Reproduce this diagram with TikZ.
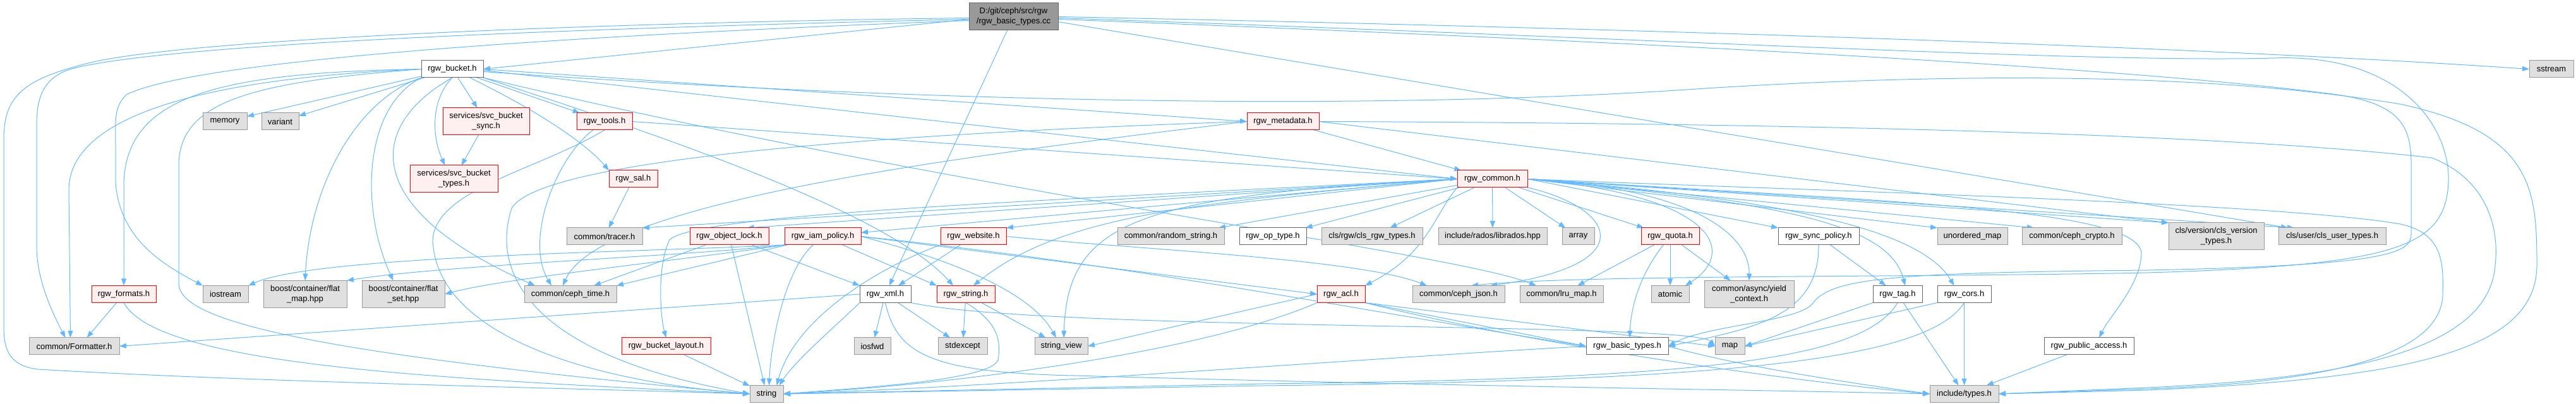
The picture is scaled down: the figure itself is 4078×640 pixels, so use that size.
\documentclass[tikz,border=0pt]{standalone}
\usepackage{fontspec}
\setmainfont{Liberation Sans}
\usetikzlibrary{arrows.meta, backgrounds}

\definecolor{edgeblue}{RGB}{99,184,255}
\definecolor{sysfill}{RGB}{224,224,224}
\definecolor{sysline}{RGB}{153,153,153}
\definecolor{redfill}{RGB}{255,240,240}
\definecolor{plainline}{RGB}{102,102,102}
\definecolor{mainfill}{RGB}{153,153,153}

\begin{document}
\begin{tikzpicture}[x=0.5pt, y=-0.5pt, >={Triangle[length=5.5pt, width=4pt]},
    every node/.style={font=\fontsize{6.5pt}{8pt}\selectfont, inner sep=0pt, outer sep=0pt, minimum height=13.5pt, align=center, line width=0.5pt},
    sysh/.style={draw=sysline, fill=sysfill},
    redh/.style={draw=red, fill=redfill},
    plainh/.style={draw=plainline, fill=white},
    mainf/.style={draw=plainline, fill=mainfill},
    twoline/.style={minimum height=21.5pt},
    dep/.style={->, edgeblue, line width=0.5pt}]
    \useasboundingbox (0,0) rectangle (4078,640);

    \node[mainf, twoline, minimum width=70.5pt] (basiccc) at (1604.5,26.5) {D:/git/ceph/src/rgw\\/rgw\_basic\_types.cc};
    \node[plainh, minimum width=49pt] (bucket) at (716,109.5) {rgw\_bucket.h};
    \node[sysh, minimum width=35pt] (sstream) at (4039,109.5) {sstream};

    \node[sysh, minimum width=35pt] (memory) at (356,192.5) {memory};
    \node[sysh, minimum width=29.5pt] (variant) at (443.5,192.5) {variant};
    \node[redh, twoline, minimum width=68.5pt] (svcsync) at (769.5,192.5) {services/svc\_bucket\\\_sync.h};
    \node[redh, minimum width=44pt] (tools) at (957,192.5) {rgw\_tools.h};
    \node[redh, minimum width=57pt] (metadata) at (2031,192.5) {rgw\_metadata.h};

    \node[redh, twoline, minimum width=69.5pt] (svctypes) at (718.5,283.5) {services/svc\_bucket\\\_types.h};
    \node[redh, minimum width=38.5pt] (sal) at (1002.5,283.5) {rgw\_sal.h};
    \node[redh, minimum width=55.5pt] (common) at (2362.5,283.5) {rgw\_common.h};

    \node[sysh, minimum width=60pt] (tracer) at (957,374.5) {common/tracer.h};
    \node[redh, minimum width=62.5pt] (objlock) at (1154.5,374.5) {rgw\_object\_lock.h};
    \node[redh, minimum width=60.5pt] (iam) at (1302.5,374.5) {rgw\_iam\_policy.h};
    \node[redh, minimum width=52pt] (website) at (1541,374.5) {rgw\_website.h};
    \node[sysh, minimum width=84.5pt] (randstr) at (1853.5,374.5) {common/random\_string.h};
    \node[plainh, minimum width=53pt] (optype) at (2015,374.5) {rgw\_op\_type.h};
    \node[sysh, minimum width=80pt] (clsrgw) at (2172,374.5) {cls/rgw/cls\_rgw\_types.h};
    \node[sysh, minimum width=86pt] (librados) at (2363,374.5) {include/rados/librados.hpp};
    \node[sysh, minimum width=25.5pt] (array) at (2498.5,374.5) {array};
    \node[redh, minimum width=46pt] (quota) at (2644,374.5) {rgw\_quota.h};
    \node[plainh, minimum width=64pt] (syncpol) at (2879,374.5) {rgw\_sync\_policy.h};
    \node[sysh, minimum width=55.5pt] (umap) at (3122.5,374.5) {unordered\_map};
    \node[sysh, minimum width=79pt] (crypto) at (3280,374.5) {common/ceph\_crypto.h};
    \node[sysh, twoline, minimum width=75.5pt] (clsver) at (3508.5,374.5) {cls/version/cls\_version\\\_types.h};
    \node[sysh, minimum width=85pt] (clsuser) at (3692,374.5) {cls/user/cls\_user\_types.h};

    \node[redh, minimum width=51pt] (formats) at (196,466) {rgw\_formats.h};
    \node[sysh, minimum width=36pt] (iostream) at (357,466) {iostream};
    \node[sysh, twoline, minimum width=66pt] (flatmap) at (483,466) {boost/container/flat\\\_map.hpp};
    \node[sysh, twoline, minimum width=65.5pt] (flatset) at (638.5,466) {boost/container/flat\\\_set.hpp};
    \node[sysh, minimum width=73pt] (cephtime) at (903,466) {common/ceph\_time.h};
    \node[plainh, minimum width=40.5pt] (xml) at (1401.5,466) {rgw\_xml.h};
    \node[redh, minimum width=46pt] (rgwstring) at (1529,466) {rgw\_string.h};
    \node[redh, minimum width=38pt] (acl) at (2123,466) {rgw\_acl.h};
    \node[sysh, minimum width=73pt] (cephjson) at (2309,466) {common/ceph\_json.h};
    \node[sysh, minimum width=66pt] (lrumap) at (2472,466) {common/lru\_map.h};
    \node[sysh, minimum width=30pt] (atomic) at (2644,466) {atomic};
    \node[sysh, twoline, minimum width=71pt] (yield) at (2769,466) {common/async/yield\\\_context.h};
    \node[plainh, minimum width=39pt] (tag) at (3004,466) {rgw\_tag.h};
    \node[plainh, minimum width=42.5pt] (cors) at (3109.5,466) {rgw\_cors.h};

    \node[sysh, minimum width=71.5pt] (formatter) at (117.5,548.5) {common/Formatter.h};
    \node[redh, minimum width=70.5pt] (layout) at (1054.5,548.5) {rgw\_bucket\_layout.h};
    \node[sysh, minimum width=29pt] (iosfwd) at (1381,548.5) {iosfwd};
    \node[sysh, minimum width=39pt] (stdexcept) at (1524,548.5) {stdexcept};
    \node[sysh, minimum width=42pt] (strview) at (1680,548.5) {string\_view};
    \node[plainh, minimum width=65pt] (basictypes) at (2576,548.5) {rgw\_basic\_types.h};
    \node[sysh, minimum width=23.5pt] (map) at (2738.5,548.5) {map};
    \node[plainh, minimum width=71pt] (publicacc) at (3307,548.5) {rgw\_public\_access.h};

    \node[sysh, minimum width=26.5pt] (string) at (1213.5,624) {string};
    \node[sysh, minimum width=54.5pt] (typesh) at (3109.5,624) {include/types.h};

    \begin{scope}[on background layer]
    \draw[dep] ([yshift=-2pt]basiccc.west) -- (bucket.east);
    \draw[dep] (basiccc.east) .. controls (2600,45) and (3500,75) .. (sstream.west);
    \draw[dep] (basiccc) -- (xml);
    \draw[dep] ([yshift=-4pt]basiccc.east) -- ([xshift=-35pt]clsuser.north);
    \draw[dep] ([yshift=-1pt]basiccc.west) .. controls (1000,35) and (300,60) .. (140,100) .. controls (40,125) and (6,150) .. (6,220) -- (6,520) .. controls (6,560) and (20,580) .. (60,585) .. controls (400,605) and (900,615) .. (string.west);
    \draw[dep] ([yshift=-2pt]basiccc.west) .. controls (900,45) and (250,70) .. (110,110) .. controls (65,125) and (58,160) .. (58,200) -- (58,390) .. controls (58,440) and (80,490) .. ([xshift=-7pt]formatter.north);
    \draw[dep] ([yshift=-3pt]basiccc.west) .. controls (800,60) and (300,100) .. (200,150) .. controls (180,170) and (183,190) .. (183,230) -- (183,290) .. controls (190,380) and (260,420) .. (iostream.north west);
    \draw[dep] ([yshift=-1pt]basiccc.east) .. controls (2600,60) and (3300,100) .. (3600,92) .. controls (3800,85) and (3880,200) .. (3876,290) .. controls (3870,390) and (3800,420) .. (3400,432) .. controls (3000,440) and (2500,435) .. ([xshift=10pt]cephjson.north);
    \draw[dep] ([yshift=-2pt]basiccc.east) .. controls (2700,70) and (3400,110) .. (3700,150) .. controls (3800,165) and (3817,200) .. (3817,260) -- (3817,370) .. controls (3817,400) and (3790,420) .. (3400,428) .. controls (3000,432) and (2900,440) .. (2870,480) .. controls (2850,510) and (2700,515) .. (basictypes.east);

    \foreach \dst in {memory, variant, svcsync, tools}
        \draw[dep] (bucket) -- (\dst);
    \draw[dep] (bucket.south) .. controls (680,160) and (685,220) .. ([xshift=-7pt]svctypes.north);
    \draw[dep] (svcsync) -- (svctypes);
    \draw[dep] (bucket) .. controls (860,180) and (930,230) .. (sal.north west);
    \draw[dep] (bucket.east) -- (metadata.west);
    \draw[dep] ([yshift=-1pt]bucket.east) -- (common.west);
    \draw[dep] (bucket.south west) .. controls (560,160) and (490,300) .. (flatmap.north);
    \draw[dep] (bucket.south west) .. controls (575,170) and (570,330) .. ([xshift=-8pt]flatset.north);
    \draw[dep] (bucket.west) .. controls (350,115) and (200,150) .. (196,290) -- (formats.north);
    \draw[dep] (bucket.west) .. controls (300,125) and (110,190) .. (109,300) -- ([xshift=-3pt]formatter.north);
    \draw[dep] (bucket.west) .. controls (400,130) and (285,160) .. (283,260) -- (283,450) .. controls (285,510) and (500,560) .. (string.west);
    \draw[dep] (bucket.south) .. controls (580,200) and (570,330) .. ([xshift=-28pt]cephtime.north);
    \draw[dep] (bucket.south east) .. controls (1000,200) and (1400,330) .. ([xshift=-10pt]rgwstring.north);
    \draw[dep] (bucket.south east) .. controls (1500,300) and (2300,400) .. ([xshift=-20pt]lrumap.north);
    \draw[dep] ([yshift=-2pt]bucket.east) .. controls (1500,165) and (2200,175) .. (2700,140) .. controls (3100,115) and (3500,115) .. (3800,165) .. controls (4010,210) and (4016,300) .. (4016,420) .. controls (4016,560) and (3800,600) .. (3400,618) -- (typesh.east);

    \draw[dep] (metadata) -- (common);
    \draw[dep] (metadata.west) .. controls (1300,215) and (850,260) .. (810,330) .. controls (780,420) and (820,560) .. (string.west);
    \draw[dep] (metadata.west) .. controls (1500,250) and (950,320) .. ([xshift=-6pt]cephtime.north);
    \draw[dep] (metadata.east) -- (clsver.north west);
    \draw[dep] (metadata.east) .. controls (2800,195) and (3500,210) .. (3850,250) .. controls (3950,290) and (3955,380) .. (3950,420) .. controls (3940,560) and (3700,600) .. (3400,614) -- (typesh.east);

    \draw[dep] (tools.east) -- (common.west);
    \draw[dep] (tools) .. controls (880,250) and (830,380) .. ([xshift=-15pt]cephtime.north);
    \draw[dep] (tools.south) .. controls (850,270) and (690,300) .. (685,380) .. controls (690,520) and (900,600) .. (string.west);
    \draw[dep] (sal) -- (tracer);

    \draw[dep] (common.west) -- (tracer.north east);
    \draw[dep] (common.west) -- ([xshift=14pt]objlock.north);
    \draw[dep] (common.west) -- ([yshift=3pt]iam.east);
    \draw[dep] (common.west) -- (website.north east);
    \foreach \dst in {randstr, optype, clsrgw, librados, array, quota}
        \draw[dep] (common) -- (\dst);
    \draw[dep] (common.west) .. controls (1600,320) and (1100,340) .. (1060,380) .. controls (1040,420) and (1045,500) .. (layout.north);
    \draw[dep] (common.west) .. controls (1900,320) and (1680,340) .. ([xshift=6pt]rgwstring.north);
    \draw[dep] (common.west) .. controls (1800,310) and (1690,350) .. ([xshift=2pt]strview.north);
    \draw[dep] (common.south west) .. controls (2270,340) and (2262,400) .. (acl.north east);
    \draw[dep] (common.south east) .. controls (2560,330) and (2600,420) .. ([xshift=25pt]cephjson.north);
    \draw[dep] (common.east) .. controls (2720,310) and (2750,400) .. ([xshift=12pt]atomic.north);
    \draw[dep] (common.east) .. controls (2700,300) and (2770,380) .. (yield.north);
    \draw[dep] (common.east) -- (syncpol.north west);
    \draw[dep] (common.east) .. controls (2800,320) and (2990,350) .. ([xshift=6pt]tag.north);
    \draw[dep] (common.east) .. controls (2900,320) and (3050,380) .. ([xshift=-8pt]cors.north);
    \draw[dep] (common.east) -- (umap.north west);
    \draw[dep] (common.east) -- ([xshift=-30pt]crypto.north);
    \draw[dep] (common.east) -- (clsver.north west);
    \draw[dep] (common.east) -- ([xshift=-30pt]clsuser.north);
    \draw[dep] (common.east) .. controls (3000,320) and (3380,330) .. (3390,400) .. controls (3390,450) and (3340,500) .. ([xshift=8pt]publicacc.north);
    \draw[dep] (common.east) .. controls (2800,300) and (3600,320) .. (3800,355) .. controls (3870,370) and (3868,420) .. (3867,470) .. controls (3860,560) and (3700,605) .. (3400,616) -- (typesh.east);

    \draw[dep] (quota) -- (lrumap);
    \draw[dep] (quota) -- (atomic);
    \draw[dep] (quota) -- (yield);
    \draw[dep] (quota) .. controls (2600,430) and (2582,480) .. ([xshift=2pt]basictypes.north);
    \draw[dep] (syncpol) -- (tag);
    \draw[dep] (syncpol.south) .. controls (2880,500) and (2780,520) .. (basictypes.east);

    \draw[dep] (tag.south west) -- (map.east);
    \draw[dep] (tag) -- (typesh);
    \draw[dep] (tag.south) .. controls (2950,570) and (2700,600) .. (2000,608) -- (string.east);
    \draw[dep] (cors.south west) -- (map.east);
    \draw[dep] (cors) -- (typesh);
    \draw[dep] (cors.south) .. controls (3050,575) and (2700,603) .. (2000,611) -- (string.east);
    \draw[dep] (publicacc) -- (typesh);

    \draw[dep] (acl.south east) -- (map.west);
    \draw[dep] (acl.south east) -- (basictypes.west);
    \draw[dep] (acl.south east) .. controls (2400,540) and (2800,600) .. (typesh.west);
    \draw[dep] (acl.south west) .. controls (1900,560) and (1500,610) .. (string.east);
    \draw[dep] (acl.west) -- (strview.east);
    \draw[dep] (basictypes.west) .. controls (2200,565) and (1600,612) .. (string.east);
    \draw[dep] (basictypes.east) .. controls (2750,580) and (2950,610) .. (typesh.west);

    \draw[dep] (xml) -- (iosfwd);
    \draw[dep] (xml) -- (stdexcept);
    \draw[dep] (xml.south west) .. controls (1330,510) and (1260,570) .. ([xshift=10pt]string.north);
    \draw[dep] (xml.west) -- (formatter.east);
    \draw[dep] (xml.south east) .. controls (1650,525) and (2680,510) .. (map.west);
    \draw[dep] (xml.south) .. controls (1420,560) and (1470,590) .. (1700,595) .. controls (2300,612) and (2800,618) .. (typesh.west);
    \draw[dep] (rgwstring) -- (stdexcept);
    \draw[dep] (rgwstring) -- (strview);
    \draw[dep] (rgwstring.south) .. controls (1580,510) and (1585,540) .. (1580,570) .. controls (1570,600) and (1400,612) .. (string.east);

    \draw[dep] (iam.south west) .. controls (1000,400) and (500,405) .. (iostream.north east);
    \draw[dep] (iam.south west) .. controls (1100,405) and (700,420) .. (flatmap.north east);
    \draw[dep] (iam.south west) .. controls (1100,410) and (800,440) .. (flatset.east);
    \draw[dep] (iam) -- (cephtime.north east);
    \draw[dep] (iam) .. controls (1240,430) and (1220,550) .. ([xshift=2pt]string.north);
    \draw[dep] (iam) -- (rgwstring.north west);
    \draw[dep] (iam.east) .. controls (1500,410) and (1630,460) .. ([xshift=-4pt]strview.north);
    \draw[dep] (iam.east) -- (acl.west);
    \draw[dep] (iam.east) .. controls (1800,420) and (2200,500) .. (basictypes.west);
    \draw[dep] (objlock) -- (cephtime);
    \draw[dep] (objlock) -- (string);
    \draw[dep] (objlock) -- (xml.north west);
    \draw[dep] (website.south west) .. controls (1400,420) and (1260,500) .. ([xshift=8pt]string.north);
    \draw[dep] (website) -- (xml);
    \draw[dep] (website.east) .. controls (1800,395) and (2150,410) .. ([xshift=-25pt]cephjson.north);

    \draw[dep] (formats) -- ([xshift=10pt]formatter.north);
    \draw[dep] (formats.south) .. controls (250,580) and (700,600) .. (string.west);
    \draw[dep] (layout) -- (string);
    \end{scope}
\end{tikzpicture}
\end{document}
